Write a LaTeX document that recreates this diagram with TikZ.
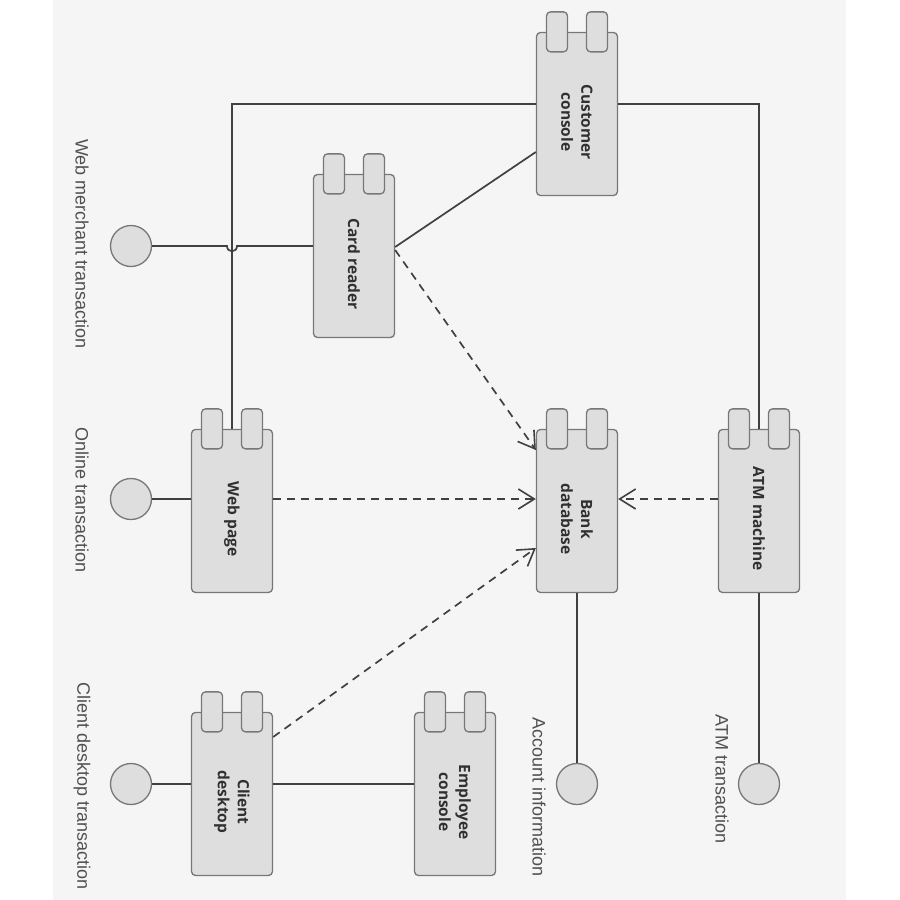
\documentclass[tikz,border=0pt]{standalone}
\usepackage{fontspec}
\setmainfont{Liberation Sans}
\newfontfamily\compfont{Open Sans}
\usetikzlibrary{arrows.meta,calc}
\definecolor{bgc}{HTML}{F5F5F5}
\definecolor{boxfill}{HTML}{DEDEDE}
\definecolor{boxline}{HTML}{777777}
\definecolor{conn}{HTML}{404040}
\definecolor{txt}{HTML}{303030}
\definecolor{lbl}{HTML}{505050}
\newcommand\umlcomp[4]{%
  \node[compbody] (#1) at (#2,#3) {};
  \node[comptab] (#1-ta) at ([xshift=-20pt]#1.north) {};
  \node[comptab] (#1-tb) at ([xshift=20pt]#1.north) {};
  \node[complabel] (#1-lab) at ([yshift=-8pt]#1.center) {#4};}
\begin{document}
\begin{tikzpicture}[x=1pt,y=-1pt,
  compbody/.style={draw=boxline, fill=boxfill, line width=1.3pt, rounded corners=4pt, minimum width=81pt, minimum height=163pt, inner sep=0pt},
  comptab/.style={draw=boxline, fill=boxfill, line width=1.3pt, rounded corners=4pt, minimum width=21pt, minimum height=40pt, inner sep=0pt},
  complabel/.style={rotate=-90, font=\compfont\bfseries\fontsize{15.5}{20}\selectfont, text=txt, align=center, inner sep=0pt},
  iface/.style={circle, draw=boxline, fill=boxfill, line width=1.3pt, minimum size=41pt, inner sep=0pt},
  ilabel/.style={rotate=-90, font=\fontsize{18}{22}\selectfont, text=lbl, inner sep=0pt},
  link/.style={draw=conn, line width=1.7pt},
  dep/.style={draw=conn, line width=1.7pt, dash pattern=on 8pt off 6pt, -{Straight Barb[length=16pt,width=20pt,line width=1.6pt]}}
]
\useasboundingbox (0,0) rectangle (900,900);
\fill[white] (0,0) rectangle (900,900);
\fill[bgc] (53,0) rectangle (846,900);

% components
\umlcomp{cc}{577}{114}{Customer\\console}
\umlcomp{cr}{354}{256}{Card reader}
\umlcomp{wp}{232}{511}{Web page}
\umlcomp{bd}{577}{511}{Bank\\database}
\umlcomp{atm}{759}{511}{ATM machine}
\umlcomp{cd}{232}{794}{Client\\desktop}
\umlcomp{ec}{455}{794}{Employee\\console}

% interfaces
\node[iface] (iwm) at (131,246) {};
\node[iface] (ion) at (131,499) {};
\node[iface] (icd) at (131,784) {};
\node[iface] (iacc) at (577,784) {};
\node[iface] (iatm) at (759,784) {};

\node[ilabel] (iwm-l) at (82,244) {Web merchant transaction};
\node[ilabel] (ion-l) at (82,500) {Online transaction};
\node[ilabel] (icd-l) at (82,786) {Client desktop transaction};
\node[ilabel] (iacc-l) at (539,797) {Account information};
\node[ilabel] (iatm-l) at (722,779) {ATM transaction};

% solid links
\draw[link] ([yshift=10pt]cc.west) -| (wp.north);
\draw[link] ([yshift=10pt]cc.east) -| (atm.north);
\draw[link] ([yshift=-38pt]cc.west) -- ([yshift=9pt]cr.east);
\coordinate (hop) at (wp.north |- iwm.east);
\draw[link] (iwm.east) -- ([xshift=-5pt]hop)
  .. controls ([xshift=-5pt,yshift=-7pt]hop) and ([xshift=5pt,yshift=-7pt]hop) .. ([xshift=5pt]hop)
  -- ([yshift=10pt]cr.west);
\draw[link] (ion.east) -- ([yshift=12pt]wp.west);
\draw[link] (icd.east) -- ([yshift=10pt]cd.west);
\draw[link] ([yshift=10pt]cd.east) -- ([yshift=10pt]ec.west);
\draw[link] (bd.south) -- (iacc.north);
\draw[link] (atm.south) -- (iatm.north);

% dependencies
\draw[dep] ([yshift=6pt]cr.east) -- ([yshift=61pt]bd.west);
\draw[dep] ([yshift=12pt]wp.east) -- ([yshift=12pt]bd.west);
\draw[dep] ([yshift=12pt]atm.west) -- ([yshift=12pt]bd.east);
\draw[dep] ([yshift=57pt]cd.east) -- ([yshift=-37pt]bd.west);
\end{tikzpicture}
\end{document}
